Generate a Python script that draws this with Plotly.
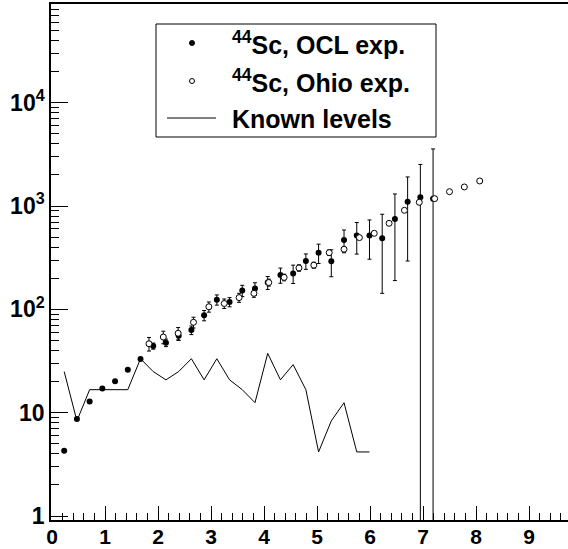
import plotly.graph_objects as go

# ---------------- data ----------------
ocl_e = [0.23, 0.47, 0.71, 0.95, 1.19, 1.43, 1.67, 1.91, 2.15, 2.39,
         2.63, 2.87, 3.11, 3.35, 3.59, 3.83, 4.07, 4.31, 4.55, 4.79,
         5.03, 5.27, 5.51, 5.75, 5.99, 6.23, 6.47, 6.71, 6.95, 7.19]
ocl_rho = [4.29, 8.7, 12.8, 17.1, 20.1, 26.1, 33.0, 44.2, 47.6, 55.5,
           63.0, 87.5, 124, 118, 152, 159, 182, 215, 223, 294,
           353, 292, 470, 518, 520, 488, 750, 1104, 1217, 1180]
ocl_err = [0, 0, 0, 0, 0, 0, 0, 3, 4, 5.5,
           6, 10, 14, 12, 19, 22, 26, 36, 45, 50,
           75, 85, 117, 175, 214, 345, 560, 810, 1313, 2392]

ohio_e = [1.83, 2.10, 2.38, 2.67, 2.96, 3.25, 3.53, 3.81, 4.09, 4.38,
          4.66, 4.94, 5.23, 5.51, 5.80, 6.08, 6.36, 6.65, 6.93, 7.22,
          7.50, 7.78, 8.07]
ohio_rho = [46.5, 54.0, 58.7, 75.0, 106, 114, 130, 143, 182, 204,
            252, 268, 354, 382, 495, 545, 681, 910, 1088, 1180,
            1378, 1531, 1750]
ohio_err = [7, 7.5, 8, 9, 12, 12, 13, 12, 14, 15,
            18, 18, 22, 20, 15, 16, 20, 27, 32, 35,
            40, 45, 50]

known_e = [0.23, 0.47, 0.71, 0.95, 1.19, 1.43, 1.67, 1.91, 2.15, 2.39,
           2.63, 2.87, 3.11, 3.35, 3.59, 3.83, 4.07, 4.31, 4.55, 4.79,
           5.03, 5.27, 5.51, 5.75, 5.99]
known_rho = [25.0, 8.33, 16.7, 16.7, 16.7, 16.7, 33.3, 25.0, 20.8, 25.0,
             33.3, 20.8, 33.3, 20.8, 16.7, 12.5, 37.5, 20.8, 29.2, 16.7,
             4.17, 8.33, 12.5, 4.17, 4.17]

x_tickvals = [0, 1, 2, 3, 4, 5, 6, 7, 8, 9]
x_ticktext = ["0", "1", "2", "3", "4", "5", "6", "7", "8", "9"]
y_tickvals = [1, 10, 100, 1000, 10000]
y_ticktext = ["1", "10", "10<sup>2</sup>", "10<sup>3</sup>", "10<sup>4</sup>"]
legend_labels = ["<sup>44</sup>Sc, OCL exp.", "<sup>44</sup>Sc, Ohio exp.", "Known levels"]

# ---------------- layout geometry ----------------
W, H = 568, 549
L, R, T, B = 51, 0, 4, 29
PW, PH = W - L - R, H - T - B
FONT = "Liberation Sans, Arial, Helvetica, sans-serif"


def px(xp):
    return (xp - L) / PW


def py(yp):
    return (H - B - yp) / PH


y_minor = [m * 10 ** d for d in range(0, 5) for m in range(2, 10)]

fig = go.Figure()

fig.add_trace(go.Scatter(
    x=known_e, y=known_rho, mode="lines",
    line=dict(color="black", width=1), name=legend_labels[2],
    showlegend=False, hoverinfo="x+y"))

fig.add_trace(go.Scatter(
    x=ocl_e, y=ocl_rho, mode="markers",
    marker=dict(symbol="circle", size=6, color="black"),
    error_y=dict(type="data", array=ocl_err, visible=True,
                 color="black", thickness=1, width=2),
    name=legend_labels[0], showlegend=False))

fig.add_trace(go.Scatter(
    x=ohio_e, y=ohio_rho, mode="markers",
    marker=dict(symbol="circle", size=6, color="white",
                line=dict(color="black", width=1)),
    error_y=dict(type="data", array=ohio_err, visible=True,
                 color="black", thickness=1, width=2),
    name=legend_labels[1], showlegend=False))

# ---------------- hand-drawn legend box ----------------
shapes = [
    dict(type="rect", xref="paper", yref="paper",
         x0=px(156), x1=px(436), y0=py(137), y1=py(24),
         line=dict(color="black", width=1), fillcolor="white", layer="above"),
    dict(type="circle", xref="paper", yref="paper",
         xsizemode="pixel", ysizemode="pixel",
         xanchor=px(192), yanchor=py(43),
         x0=-2.5, x1=2.5, y0=-2.5, y1=2.5,
         fillcolor="black", line=dict(color="black", width=1)),
    dict(type="circle", xref="paper", yref="paper",
         xsizemode="pixel", ysizemode="pixel",
         xanchor=px(192), yanchor=py(81),
         x0=-2.5, x1=2.5, y0=-2.5, y1=2.5,
         fillcolor="white", line=dict(color="black", width=1)),
    dict(type="line", xref="paper", yref="paper",
         x0=px(167), x1=px(216), y0=py(118), y1=py(118),
         line=dict(color="black", width=1)),
]

label_y = [43, 81, 119]
annotations = []
for txt, yy in zip(legend_labels, label_y):
    annotations.append(dict(
        xref="paper", yref="paper", x=px(230), y=py(yy),
        xanchor="left", yanchor="middle", showarrow=False, text=txt,
        font=dict(family=FONT, size=25, color="black", weight="bold")))

fig.update_layout(
    width=W, height=H,
    margin=dict(l=L, r=R, t=T, b=B, pad=0, autoexpand=False),
    paper_bgcolor="white", plot_bgcolor="white",
    shapes=shapes, annotations=annotations, showlegend=False,
    xaxis=dict(
        range=[-1 / 53, (PW - 1) / 53], tickmode="array",
        tickvals=x_tickvals, ticktext=x_ticktext, automargin=False,
        ticks="inside", ticklen=14, tickwidth=1, tickcolor="black",
        ticklabelstandoff=-3,
        minor=dict(dtick=0.2, tick0=0, ticks="inside", ticklen=7,
                   tickwidth=1, tickcolor="black", showgrid=False),
        showgrid=False, zeroline=False, showline=True, linecolor="black",
        linewidth=1.5, mirror=True,
        tickfont=dict(family=FONT, size=21, color="black", weight="bold")),
    yaxis=dict(
        type="log", range=[-0.0387, 4.956], tickmode="array",
        tickvals=y_tickvals, ticktext=y_ticktext, automargin=False,
        ticks="inside", ticklen=17, tickwidth=1, tickcolor="black",
        minor=dict(tickmode="array", tickvals=y_minor, ticks="inside",
                   ticklen=8, tickwidth=1, tickcolor="black", showgrid=False),
        showgrid=False, zeroline=False, showline=True, linecolor="black",
        linewidth=1.5, mirror=False,
        tickfont=dict(family=FONT, size=23, color="black", weight="bold")),
)

fig.write_html("out.html")
